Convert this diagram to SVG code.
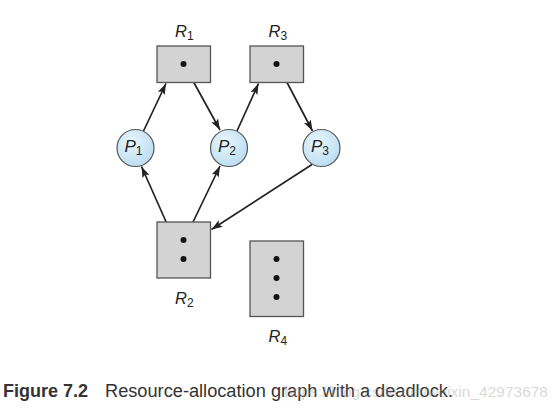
<svg xmlns="http://www.w3.org/2000/svg" width="554" height="417" viewBox="0 0 554 417">
<style>
.res{fill:#d3d3d3;stroke:#555;stroke-width:1.3}
.proc{fill:url(#pg);stroke:#555;stroke-width:1.2}
.dot{fill:#111}
.edge{stroke:#222;stroke-width:1.7;fill:none;marker-end:url(#ah)}
.lbl{font-family:"Liberation Sans",Arial,sans-serif;font-style:italic;fill:#222}
.sub{font-style:normal}
.cap{font-family:"Liberation Sans",Arial,sans-serif;font-size:18px;fill:#333}
</style>
<defs>
<radialGradient id="pg" cx="0.4" cy="0.35" r="0.7">
<stop offset="0" stop-color="#eaf6fc"/>
<stop offset="1" stop-color="#b8dcf0"/>
</radialGradient>
<marker id="ah" markerUnits="userSpaceOnUse" markerWidth="12" markerHeight="9" refX="11" refY="4.5" orient="auto">
<path d="M0,0.7 L11,4.5 L0,8.3 L2.2,4.5 Z" fill="#222"/>
</marker>
</defs>

<g id="edges">
<line class="edge" x1="143.5" y1="131" x2="166" y2="83.5"/>
<line class="edge" x1="187" y1="70" x2="220" y2="130"/>
<line class="edge" x1="237" y1="131" x2="258.5" y2="83.5"/>
<line class="edge" x1="280.5" y1="70" x2="312.5" y2="131"/>
<line class="edge" x1="312" y1="164.5" x2="211.5" y2="229.5"/>
<line class="edge" x1="179.5" y1="252" x2="141.5" y2="166.5"/>
<line class="edge" x1="187.5" y1="233.5" x2="220" y2="166"/>
</g>

<g id="R1">
<rect class="res" x="157" y="46" width="53.5" height="36.5"/>
<circle class="dot" cx="183.5" cy="64" r="3"/>
<text class="lbl" x="175" y="36.5" font-size="16.5">R<tspan class="sub" font-size="12" dy="3">1</tspan></text>
</g>
<g id="R3">
<rect class="res" x="250" y="46" width="53.5" height="36.5"/>
<circle class="dot" cx="276.5" cy="64" r="3"/>
<text class="lbl" x="268.5" y="36.5" font-size="16.5">R<tspan class="sub" font-size="12" dy="3">3</tspan></text>
</g>
<g id="R2">
<rect class="res" x="157" y="222" width="53.5" height="56"/>
<circle class="dot" cx="183.5" cy="240" r="3"/>
<circle class="dot" cx="183.5" cy="259" r="3"/>
<text class="lbl" x="175" y="304" font-size="16.5">R<tspan class="sub" font-size="12" dy="3">2</tspan></text>
</g>
<g id="R4">
<rect class="res" x="250" y="241" width="53.5" height="75.5"/>
<circle class="dot" cx="276.5" cy="259" r="3"/>
<circle class="dot" cx="276.5" cy="278" r="3"/>
<circle class="dot" cx="276.5" cy="297" r="3"/>
<text class="lbl" x="268.5" y="342" font-size="16.5">R<tspan class="sub" font-size="12" dy="3">4</tspan></text>
</g>

<g id="P1">
<circle class="proc" cx="135.5" cy="148" r="18.5"/>
<text class="lbl" x="124.5" y="152" font-size="17">P<tspan class="sub" font-size="12" dy="3">1</tspan></text>
</g>
<g id="P2">
<circle class="proc" cx="229" cy="148" r="18.5"/>
<text class="lbl" x="218" y="152" font-size="17">P<tspan class="sub" font-size="12" dy="3">2</tspan></text>
</g>
<g id="P3">
<circle class="proc" cx="321.5" cy="148" r="18.5"/>
<text class="lbl" x="311" y="152" font-size="17">P<tspan class="sub" font-size="12" dy="3">3</tspan></text>
</g>

<g id="caption">
<text class="cap" x="3" y="397" font-weight="bold" fill="#1a1a1a">Figure 7.2</text>
<text class="cap" x="105" y="397" textLength="348" lengthAdjust="spacingAndGlyphs">Resource-allocation graph with a deadlock.</text>
<text x="548" y="397" text-anchor="end" font-family="'Liberation Sans',Arial,sans-serif" font-size="15.5" fill="#9a9a9a" fill-opacity="0.4">https://blog.csdn.net/weixin_42973678</text>
</g>
</svg>
